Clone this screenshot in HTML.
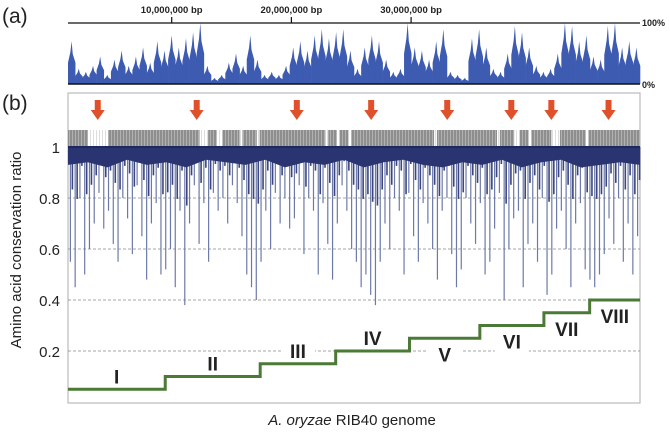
<!DOCTYPE html>
<html><head><meta charset="utf-8"><style>
html,body{margin:0;padding:0;background:#fff;}
body{width:670px;height:437px;overflow:hidden;font-family:"Liberation Sans",sans-serif;}
</style></head><body>
<svg id="chart" width="670" height="437" viewBox="0 0 670 437" xmlns="http://www.w3.org/2000/svg" font-family="Liberation Sans, sans-serif">
<text x="2" y="23" font-size="21" fill="#222">(a)</text>
<text x="2" y="110" font-size="21" fill="#222">(b)</text>
<g id="topPanel"></g>
<g id="bottomPanel"></g>
<text x="352" y="425" font-size="15" fill="#222" text-anchor="middle"><tspan font-style="italic">A. oryzae</tspan> RIB40 genome</text>
<text transform="translate(21,250) rotate(-90)" font-size="15" fill="#222" text-anchor="middle">Amino acid conservation ratio</text>
</svg>
<script>
const topTicks = [10000000, 20000000, 30000000];
const topTickLabels = ["10,000,000 bp", "20,000,000 bp", "30,000,000 bp"];
const topValues = [70,25,20,30,45,15,40,55,30,45,60,35,70,55,80,60,75,85,100,30,10,15,35,50,30,80,40,15,20,15,30,60,70,55,80,90,75,85,90,55,25,60,80,70,40,20,25,100,60,55,40,70,90,20,15,10,75,90,60,25,20,50,95,85,60,30,20,25,50,100,95,70,80,45,40,95,100,60,70,60];
const yTicks = [0.2, 0.4, 0.6, 0.8, 1];
const yTickLabels = ["0.2", "0.4", "0.6", "0.8", "1"];
const spikes = [0.55,0.45,0.8,0.5,0.6,0.7,0.82,0.68,0.75,0.62,0.55,0.8,0.72,0.58,0.85,0.65,0.48,0.7,0.78,0.5,0.52,0.6,0.45,0.75,0.38,0.7,0.85,0.62,0.78,0.55,0.82,0.75,0.8,0.7,0.85,0.78,0.65,0.5,0.45,0.4,0.55,0.75,0.6,0.82,0.7,0.8,0.68,0.72,0.85,0.58,0.8,0.75,0.5,0.78,0.62,0.48,0.7,0.85,0.75,0.6,0.55,0.45,0.5,0.42,0.38,0.55,0.7,0.6,0.8,0.75,0.5,0.82,0.65,0.55,0.78,0.7,0.6,0.48,0.75,0.8,0.58,0.45,0.52,0.8,0.7,0.62,0.78,0.5,0.55,0.68,0.82,0.4,0.6,0.72,0.75,0.45,0.62,0.7,0.55,0.8,0.42,0.5,0.68,0.75,0.6,0.45,0.7,0.78,0.52,0.48,0.45,0.5,0.58,0.72,0.62,0.8,0.55,0.7,0.5,0.65];
const bandDepth = [0.93,0.94,0.92,0.95,0.93,0.94,0.92,0.95,0.94,0.93,0.95,0.92,0.94,0.93,0.95,0.92,0.94,0.95,0.93,0.92,0.94,0.93,0.95,0.92,0.94,0.95,0.92,0.93,0.94,0.93];
const barcodeGaps = [[0.035,0.07],[0.23,0.245],[0.26,0.27],[0.3,0.305],[0.33,0.335],[0.45,0.455],[0.47,0.475],[0.49,0.495],[0.64,0.645],[0.75,0.755],[0.78,0.79],[0.805,0.81],[0.845,0.86],[0.905,0.91]];
const arrowPos = [0.052,0.225,0.4,0.53,0.663,0.775,0.845,0.945];
const stepLevels = [0.05,0.1,0.15,0.2,0.25,0.3,0.35,0.4];
const stepEnds = [0.17,0.336,0.468,0.597,0.72,0.832,0.912,1.0];
const stepLabels = ["I","II","III","IV","V","VI","VII","VIII"];
const stepLabelBelow = [false,false,false,false,true,true,true,true];

const NS='http://www.w3.org/2000/svg';
function mk(tag,attrs,parent){const e=document.createElementNS(NS,tag);for(const k in attrs)e.setAttribute(k,attrs[k]);parent.appendChild(e);return e;}
const L=68,R=640,W=R-L;
const topG=document.getElementById('topPanel'), botG=document.getElementById('bottomPanel');
const tY0=84,tY1=23;
const bpX=bp=>52+bp/10000000*119.7;
const pctY=p=>tY0-(p/100)*(tY0-tY1);
const bw=W/topValues.length;
topValues.forEach((v,i)=>{
  const x0=L+i*bw, x1=x0+bw+0.3, cx=x0+bw/2;
  const base=pctY(v*0.5);
  const p=mk('path',{d:`M${x0},${tY0} V${base} L${cx-1.2},${pctY(v*0.75)} L${cx},${pctY(v)} L${cx+1.2},${pctY(v*0.7)} L${x1},${base} V${tY0} Z`,fill:'#3d5bb0'},topG);
  
  
});
let e=mk('line',{x1:L,x2:R,y1:tY1,y2:tY1,stroke:'#111','stroke-width':1.2},topG);

e=mk('line',{x1:L,x2:R,y1:tY0,y2:tY0,stroke:'#111','stroke-width':1.5},topG);

topTicks.forEach((t,i)=>{
  const x=bpX(t);
  const l=mk('line',{x1:x,x2:x,y1:tY1-6,y2:tY1,stroke:'#111','stroke-width':1.2},topG);
  
  const tx=mk('text',{x:x,y:tY1-10,'font-size':9.5,'font-weight':'bold','text-anchor':'middle',fill:'#222'},topG);
  tx.textContent=topTickLabels[i];
  
});
e=mk('text',{x:R+2,y:tY1+3,'font-size':9,'font-weight':'bold',fill:'#222'},topG);e.textContent='100%';

e=mk('text',{x:R+2,y:tY0+4,'font-size':9,'font-weight':'bold',fill:'#222'},topG);e.textContent='0%';


const bTop=93,bBot=403;
const yS=v=>402-v*255;
e=mk('rect',{x:L,y:bTop,width:W,height:bBot-bTop,fill:'none',stroke:'#bbb','stroke-width':1.2},botG);

yTicks.forEach((t,i)=>{
  if(t<1){const g=mk('line',{x1:L,x2:R,y1:yS(t),y2:yS(t),stroke:'#888','stroke-width':0.8,'stroke-dasharray':'3,2'},botG);
  }
  const tx=mk('text',{x:60,y:yS(t)+6,'font-size':15,'text-anchor':'end',fill:'#222'},botG);
  tx.textContent=yTickLabels[i];
  
});
e=mk('rect',{x:L,y:130,width:W,height:16,fill:'#8e8e8e'},botG);

barcodeGaps.forEach(g=>{
  const r=mk('rect',{x:L+g[0]*W,y:130,width:(g[1]-g[0])*W,height:16,fill:'#fff'},botG);
  
});
for(let i=0;i<W;i+=3){const l=mk('line',{x1:L+i+1.5,x2:L+i+1.5,y1:130,y2:146,stroke:'#c8c8c8','stroke-width':0.6},botG);
}
const sw=W/spikes.length;
spikes.forEach((v,i)=>{
  const x=L+(i+0.5)*sw;
  const l=mk('line',{x1:x,x2:x,y1:yS(1),y2:yS(v),stroke:'#6d7aa8','stroke-width':1.2},botG);
  
  const l2=mk('line',{x1:x+2,x2:x+2,y1:yS(1),y2:yS((v+1.7)/2.7),stroke:'#3a4582','stroke-width':1.6},botG);
  
});
const bdw=W/(bandDepth.length-1);
let bd=`M${L},${yS(1)}`;
bandDepth.forEach((v,i)=>{bd+=` L${L+i*bdw},${yS(v)}`;});
bd+=` L${R},${yS(1)} Z`;
e=mk('path',{d:bd,fill:'#2a3470'},botG);

e=mk('line',{x1:L,x2:R,y1:yS(1),y2:yS(1),stroke:'#1e2860','stroke-width':2},botG);

arrowPos.forEach(p=>{
  const x=L+p*W;
  const a=mk('path',{d:`M${x-3},100 h6 v10 h4 l-7,10 l-7,-10 h4 z`,fill:'#e0502a'},botG);
  
});
let d='',px=L;
stepLevels.forEach((v,i)=>{const x2=L+stepEnds[i]*W;d+=(i===0?`M${px},${yS(v)}`:`V${yS(v)}`)+` H${x2}`;px=x2;});
e=mk('path',{d:d,fill:'none',stroke:'#4a7a35','stroke-width':3},botG);

let sx=L;
stepLevels.forEach((v,i)=>{
  const x2=L+stepEnds[i]*W;
  const cx=(sx+x2)/2;sx=x2;
  const ly=stepLabelBelow[i]?yS(v)+23:yS(v)-6;
  const bg=mk('rect',{x:cx-17,y:ly-16,width:34,height:19,fill:'#fff'},botG);
  
  const t=mk('text',{x:cx,y:ly,'font-size':19,'font-weight':'bold','text-anchor':'middle',fill:'#222'},botG);
  t.textContent=stepLabels[i];
  
});
</script>
</body></html>
